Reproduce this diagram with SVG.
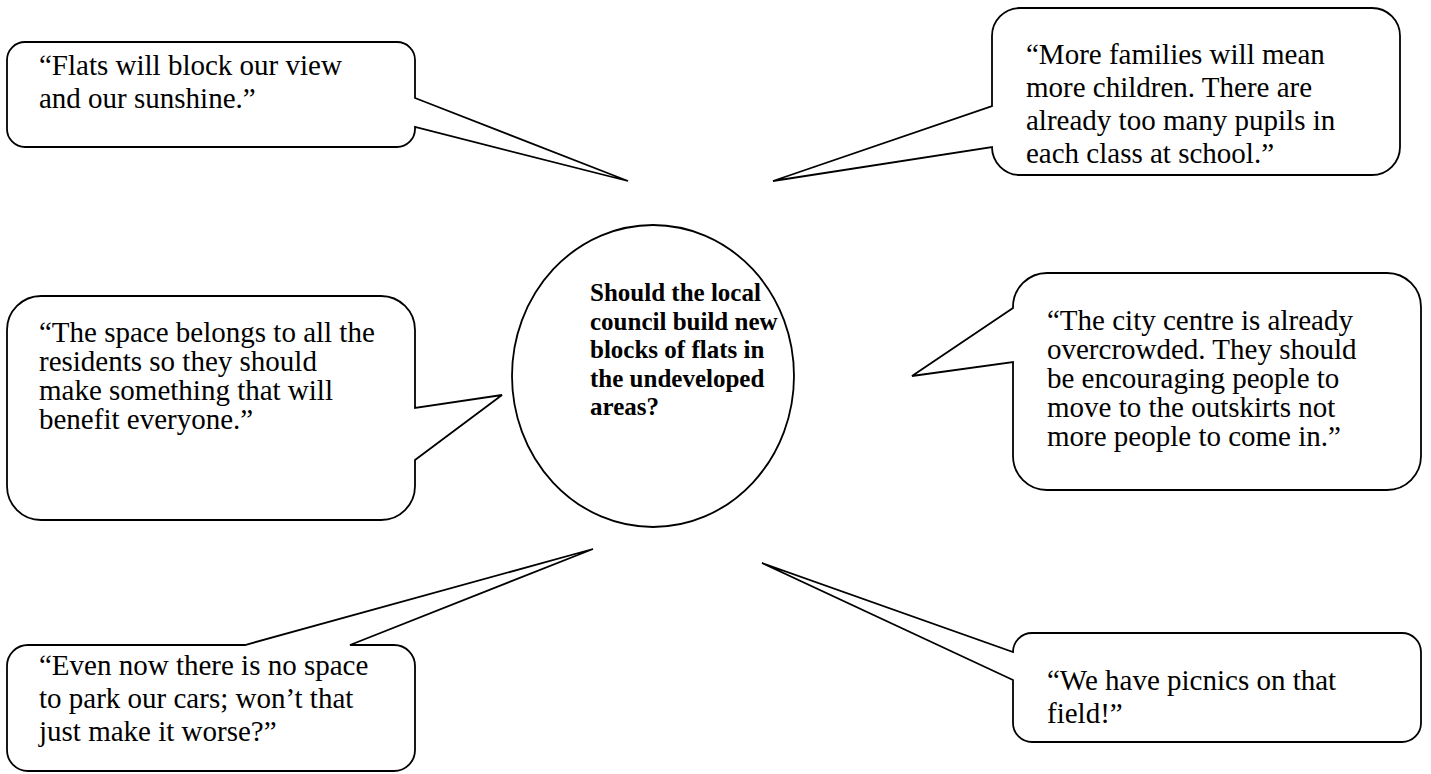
<svg xmlns="http://www.w3.org/2000/svg" width="1431" height="774" viewBox="0 0 1431 774">
<style>
.shape{fill:#fff;stroke:#000;stroke-width:1.8;stroke-linejoin:miter}
.q{font-family:"Liberation Serif","Times New Roman",serif;font-size:29px;fill:#000}
.c{font-family:"Liberation Serif","Times New Roman",serif;font-size:25px;font-weight:bold;fill:#000}
</style>
<rect width="1431" height="774" fill="#fff"/>
<g id="center">
<ellipse class="shape" cx="653" cy="376" rx="141" ry="151"/>
<text class="c"><tspan x="590" y="301">Should the local</tspan><tspan x="590" y="330">council build new</tspan><tspan x="590" y="358">blocks of flats in</tspan><tspan x="590" y="387">the undeveloped</tspan><tspan x="590" y="415">areas?</tspan></text>
</g>
<g id="quote-view">
<path class="shape" d="M25,42 H397 A18 18 0 0 1 415,60 V98 L628,181 L415,127 V129 A18 18 0 0 1 397,147 H25 A18 18 0 0 1 7,129 V60 A18 18 0 0 1 25,42 Z"/>
<text class="q"><tspan x="39" y="75">“Flats will block our view</tspan><tspan x="39" y="108">and our sunshine.”</tspan></text>
</g>
<g id="quote-school">
<path class="shape" d="M1020,8 H1372 A28 28 0 0 1 1400,36 V147 A28 28 0 0 1 1372,175 H1020 A28 28 0 0 1 992,147 L773,181 L992,106 V36 A28 28 0 0 1 1020,8 Z"/>
<text class="q"><tspan x="1026" y="64">“More families will mean</tspan><tspan x="1026" y="97">more children. There are</tspan><tspan x="1026" y="130">already too many pupils in</tspan><tspan x="1026" y="163">each class at school.”</tspan></text>
</g>
<g id="quote-space">
<path class="shape" d="M41,296 H381 A34 34 0 0 1 415,330 V408 L502,395 L415,460 V486 A34 34 0 0 1 381,520 H41 A34 34 0 0 1 7,486 V330 A34 34 0 0 1 41,296 Z"/>
<text class="q"><tspan x="39" y="342">“The space belongs to all the</tspan><tspan x="39" y="371">residents so they should</tspan><tspan x="39" y="400">make something that will</tspan><tspan x="39" y="429">benefit everyone.”</tspan></text>
</g>
<g id="quote-city">
<path class="shape" d="M1047,273 H1387 A34 34 0 0 1 1421,307 V456 A34 34 0 0 1 1387,490 H1047 A34 34 0 0 1 1013,456 V362 L912,376 L1013,308 V307 A34 34 0 0 1 1047,273 Z"/>
<text class="q"><tspan x="1047" y="330">“The city centre is already</tspan><tspan x="1047" y="359">overcrowded. They should</tspan><tspan x="1047" y="388">be encouraging people to</tspan><tspan x="1047" y="417">move to the outskirts not</tspan><tspan x="1047" y="446">more people to come in.”</tspan></text>
</g>
<g id="quote-parking">
<path class="shape" d="M28,645 H245 L593,549 L350,645 H394 A21 21 0 0 1 415,666 V750 A21 21 0 0 1 394,771 H28 A21 21 0 0 1 7,750 V666 A21 21 0 0 1 28,645 Z"/>
<text class="q"><tspan x="39" y="675">“Even now there is no space</tspan><tspan x="39" y="708">to park our cars; won’t that</tspan><tspan x="39" y="741">just make it worse?”</tspan></text>
</g>
<g id="quote-picnic">
<path class="shape" d="M1032,633 H1402 A19 19 0 0 1 1421,652 V723 A19 19 0 0 1 1402,742 H1032 A19 19 0 0 1 1013,723 V680 L762,563 L1013,652 A19 19 0 0 1 1032,633 Z"/>
<text class="q"><tspan x="1047" y="690">“We have picnics on that</tspan><tspan x="1047" y="723">field!”</tspan></text>
</g>
</svg>
